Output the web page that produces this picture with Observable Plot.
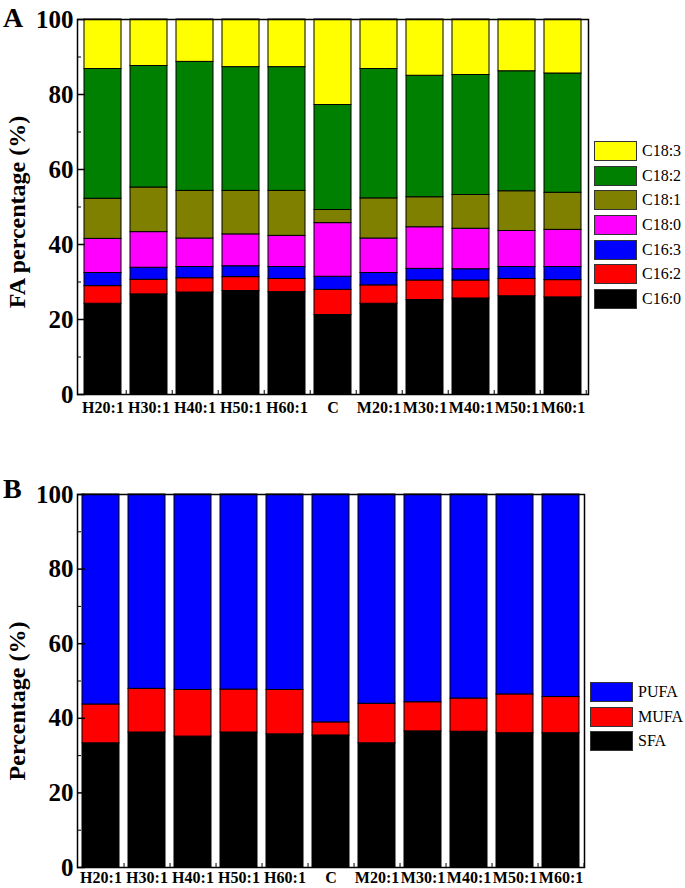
<!DOCTYPE html>
<html><head><meta charset="utf-8">
<script src="https://cdn.jsdelivr.net/npm/d3@7"></script>
<script src="https://cdn.jsdelivr.net/npm/@observablehq/plot@0.6"></script>
<style>
body{margin:0;background:#fff;font-family:"Liberation Serif",serif;}
#wrap{position:relative;width:685px;height:888px;overflow:hidden;}
#wrap svg{display:block;}
.panel{position:absolute;font-weight:bold;font-size:28px;line-height:1;}
.ytitle{position:absolute;font-weight:bold;font-size:24px;line-height:1;transform:translate(-50%,-50%) rotate(-90deg);white-space:nowrap;}
.legend{position:absolute;}
.legend .row{display:flex;align-items:center;height:20px;margin-bottom:4.7px;}
.legend .sw{width:41px;height:18px;border:1px solid #333;}
.legend .lb{font-size:16px;margin-left:5px;line-height:1;}
</style></head><body><div id="wrap"></div>
<script>
const categories = ["H20:1","H30:1","H40:1","H50:1","H60:1","C","M20:1","M30:1","M40:1","M50:1","M60:1"];

const faSeries = ["C16:0","C16:2","C16:3","C18:0","C18:1","C18:2","C18:3"];
const faColors = ["#000000","#ff0000","#0000ff","#ff00ff","#808000","#008000","#ffff00"];
const c16_0 = [24.2, 26.7, 27.2, 27.6, 27.3, 21.2, 24.2, 25.2, 25.6, 26.2, 25.9];
const c16_2 = [4.7, 3.9, 3.8, 3.7, 3.5, 6.7, 4.9, 5.2, 4.8, 4.6, 4.6];
const c16_3 = [3.5, 3.2, 3.0, 2.9, 3.2, 3.5, 3.3, 3.1, 3.0, 3.2, 3.5];
const c18_0 = [9.1, 9.5, 7.6, 8.5, 8.3, 14.3, 9.2, 11.1, 10.8, 9.6, 9.9];
const c18_1 = [10.7, 11.9, 12.7, 11.6, 12.0, 3.5, 10.7, 8.0, 9.0, 10.6, 9.9];
const c18_2 = [34.6, 32.4, 34.4, 33.0, 33.0, 28.0, 34.5, 32.4, 32.0, 32.0, 31.8];
const c18_3 = [13.2, 12.4, 11.3, 12.7, 12.7, 22.8, 13.2, 15.0, 14.8, 13.8, 14.4];

const groupSeries = ["SFA","MUFA","PUFA"];
const groupColors = ["#000000","#ff0000","#0000ff"];
const sfa  = [33.3, 36.2, 35.1, 36.2, 35.7, 35.4, 33.3, 36.5, 36.4, 36.0, 36.0];
const mufa = [10.4, 11.7, 12.5, 11.5, 11.9, 3.5, 10.6, 7.8, 8.9, 10.4, 9.7];
const pufa = [56.3, 52.1, 52.4, 52.3, 52.4, 61.1, 56.1, 55.7, 54.7, 53.6, 54.3];

const yTicks = [0, 20, 40, 60, 80, 100];
const yMinorTicks = [10, 30, 50, 70, 90];

function panel({values, series, colors, height, marginTop, marginBottom, marginRight, xPad}) {
  const rows = series.flatMap((s, i) => categories.map((c, j) => ({category: c, series: s, value: values[i][j]})));
  const step = (685 - 77 - marginRight) / categories.length;
  return Plot.plot({
    width: 685, height, marginTop, marginBottom, marginLeft: 77, marginRight,
    style: {fontFamily: "Liberation Serif", background: "white", overflow: "visible", color: "black"},
    x: {domain: categories, paddingInner: 0.2, paddingOuter: 0.1, label: null},
    y: {domain: [0, 100], label: null},
    color: {domain: series, range: colors},
    marks: [
      Plot.barY(rows, {x: "category", y: "value", fill: "series", stroke: "black", strokeWidth: 1}),
      Plot.frame({stroke: "black", strokeWidth: 1.5}),
      Plot.axisY({ticks: yTicks, tickSize: 0, tickPadding: 4, fontSize: 25, fontWeight: "bold", label: null}),
      Plot.axisY({ticks: yTicks, tickSize: 8, dx: 8, tickFormat: () => "", label: null, strokeWidth: 1.5}),
      Plot.axisY({ticks: yMinorTicks, tickSize: 4, dx: 4, tickFormat: () => "", label: null}),
      Plot.axisX({tickSize: 0, tickPadding: xPad, fontSize: 16, fontWeight: "bold", label: null}),
      Plot.axisX({tickSize: 4, dy: -4, dx: step / 2, tickFormat: () => "", label: null})
    ]
  });
}

const wrap = document.getElementById("wrap");
wrap.append(panel({
  values: [c16_0, c16_2, c16_3, c18_0, c18_1, c18_2, c18_3],
  series: faSeries, colors: faColors,
  height: 440, marginTop: 19, marginBottom: 46, marginRight: 97, xPad: 7
}));
wrap.append(panel({
  values: [sfa, mufa, pufa],
  series: groupSeries, colors: groupColors,
  height: 448, marginTop: 54, marginBottom: 21, marginRight: 101, xPad: 4
}));

function addDiv(cls, text, css) {
  const d = document.createElement("div");
  d.className = cls; d.textContent = text;
  Object.assign(d.style, css);
  wrap.append(d);
  return d;
}
addDiv("panel", "A", {left: "3px", top: "4px"});
addDiv("panel", "B", {left: "3px", top: "475px"});
addDiv("ytitle", "FA percentage (%)", {left: "17px", top: "212px"});
addDiv("ytitle", "Percentage (%)", {left: "17px", top: "701px"});

function legend(series, colors, left, top) {
  const lg = document.createElement("div");
  lg.className = "legend";
  lg.style.left = left + "px"; lg.style.top = top + "px";
  series.slice().reverse().forEach((s) => {
    const i = series.indexOf(s);
    const r = document.createElement("div"); r.className = "row";
    const sw = document.createElement("div"); sw.className = "sw"; sw.style.background = colors[i];
    const lb = document.createElement("div"); lb.className = "lb"; lb.textContent = s;
    r.append(sw, lb); lg.append(r);
  });
  wrap.append(lg);
}
legend(faSeries, faColors, 594, 141);
legend(groupSeries, groupColors, 590, 682);
</script></body></html>
